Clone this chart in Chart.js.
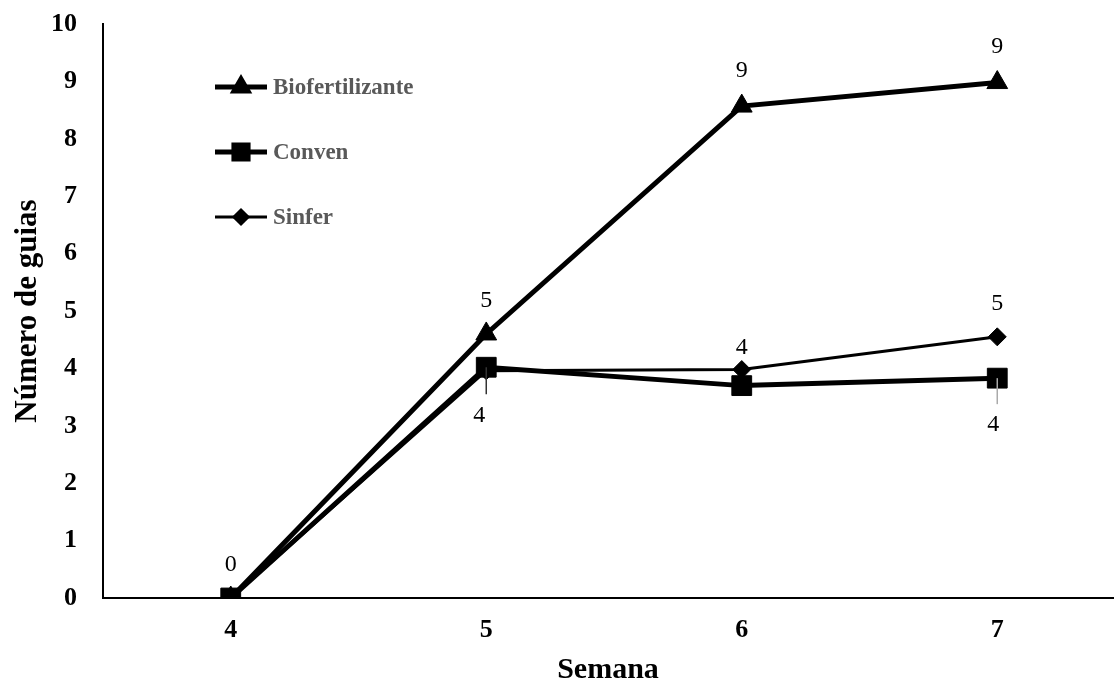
<!DOCTYPE html>
<html>
<head>
<meta charset="utf-8">
<script src="https://cdn.jsdelivr.net/npm/chart.js@4.4.0/dist/chart.umd.min.js"></script>
<style>
  html, body { margin: 0; padding: 0; background: #fff; }
</style>
</head>
<body>
<canvas id="guiasChart" width="1115" height="685"></canvas>
<script>
// weeks on the x axis
const semanas = [4, 5, 6, 7];
const yTicks = [0, 1, 2, 3, 4, 5, 6, 7, 8, 9, 10];

// number of guides per treatment
const biofertilizante = [0, 4.6, 8.57, 8.98];
const conven = [0, 4.02, 3.7, 3.83];
const sinfer = [0, 3.96, 3.98, 4.55];

// which points carry a value label, and where it sits
const labelSetup = [
  { idx: [0, 1, 2, 3], dx: [0, 0, 0, 0], dy: [-33, -33, -35, -36] },
  { idx: [1, 3], dx: [-7, -4], dy: [48, 47], leader: ['#333', '#aaa'] },
  { idx: [2, 3], dx: [0, 0], dy: [-22, -33] }
];

const toPoints = (arr) => arr.map((v, i) => ({ x: semanas[i], y: v }));

const serif = '"Liberation Serif", "Times New Roman", serif';

// value labels drawn next to the points
const valueLabels = {
  id: 'valueLabels',
  afterDatasetsDraw(chart) {
    const ctx = chart.ctx;
    ctx.save();
    ctx.font = '24px ' + serif;
    ctx.fillStyle = '#000';
    ctx.textAlign = 'center';
    ctx.textBaseline = 'middle';
    chart.data.datasets.forEach((ds, d) => {
      const meta = chart.getDatasetMeta(d);
      const cfg = labelSetup[d];
      cfg.idx.forEach((i, k) => {
        const pt = meta.data[i];
        const x = pt.x + cfg.dx[k];
        const y = pt.y + cfg.dy[k];
        if (cfg.leader) {
          ctx.strokeStyle = cfg.leader[k];
          ctx.lineWidth = 1.5;
          ctx.beginPath();
          ctx.moveTo(pt.x, pt.y);
          ctx.lineTo(pt.x, y - 21);
          ctx.stroke();
        }
        ctx.fillText(String(Math.round(ds.data[i].y)), x, y);
      });
    });
    ctx.restore();
  }
};

// legend drawn inside the plot area
const insideLegend = {
  id: 'insideLegend',
  afterDraw(chart) {
    const ctx = chart.ctx;
    const x0 = 215, x1 = 267, rowY = [87, 152, 217];
    const markR = [8, 10, 7];
    ctx.save();
    chart.data.datasets.forEach((ds, d) => {
      const y = rowY[d];
      ctx.strokeStyle = ds.borderColor;
      ctx.lineWidth = d === 2 ? 3 : 5;
      ctx.beginPath();
      ctx.moveTo(x0, y);
      ctx.lineTo(x1, y);
      ctx.stroke();
      ctx.fillStyle = '#000';
      ctx.strokeStyle = '#000';
      Chart.helpers.drawPoint(ctx, {
        pointStyle: ds.pointStyle, radius: markR[d], rotation: 0, borderWidth: 1
      }, (x0 + x1) / 2, y);
      ctx.fillStyle = '#595959';
      ctx.font = 'bold 23px ' + serif;
      ctx.textAlign = 'left';
      ctx.textBaseline = 'middle';
      ctx.fillText(ds.label, x1 + 6, y + 1);
    });
    ctx.restore();
  }
};

const ctx = document.getElementById('guiasChart').getContext('2d');

const myChart = new Chart(ctx, {
  type: 'line',
  data: {
    datasets: [
      {
        label: 'Biofertilizante',
        data: toPoints(biofertilizante),
        borderColor: '#000',
        backgroundColor: '#000',
        borderWidth: 5,
        pointStyle: 'triangle',
        pointRadius: 12,
        pointBorderWidth: 1,
        order: 2
      },
      {
        label: 'Conven',
        data: toPoints(conven),
        borderColor: '#000',
        backgroundColor: '#000',
        borderWidth: 5,
        pointStyle: 'rect',
        pointRadius: 14,
        pointBorderWidth: 1,
        order: 1
      },
      {
        label: 'Sinfer',
        data: toPoints(sinfer),
        borderColor: '#000',
        backgroundColor: '#000',
        borderWidth: 3,
        pointStyle: 'rectRot',
        pointRadius: 9,
        pointBorderWidth: 1,
        order: 0
      }
    ]
  },
  options: {
    responsive: false,
    animation: false,
    layout: { autoPadding: false, padding: { left: 12, top: 24, right: 2, bottom: 0 } },
    plugins: {
      legend: { display: false },
      tooltip: { enabled: false }
    },
    scales: {
      x: {
        type: 'linear',
        min: 3.5,
        max: 7.453,
        grid: { display: false },
        border: { display: true, color: '#000', width: 2 },
        ticks: {
          color: '#000',
          padding: 9,
          font: { family: serif, size: 26, weight: 'bold' }
        },
        afterBuildTicks(scale) {
          scale.ticks = semanas.map(v => ({ value: v }));
        },
        afterFit(scale) {
          scale.height = 87;
          scale.paddingLeft = 0;
          scale.paddingRight = 0;
        },
        title: {
          display: true,
          text: 'Semana',
          color: '#000',
          padding: 0,
          font: { family: serif, size: 30, weight: 'bold', lineHeight: 1 }
        }
      },
      y: {
        min: 0,
        max: 10,
        grid: { display: false },
        border: { display: true, color: '#000', width: 2 },
        ticks: {
          color: '#000',
          padding: 18,
          font: { family: serif, size: 26, weight: 'bold' }
        },
        afterBuildTicks(scale) {
          scale.ticks = yTicks.map(v => ({ value: v }));
        },
        afterFit(scale) {
          scale.width = 91;
          scale.paddingTop = 0;
          scale.paddingBottom = 0;
        },
        title: {
          display: true,
          text: 'Número de guias',
          color: '#000',
          padding: 0,
          font: { family: serif, size: 31, weight: 'bold', lineHeight: 1 }
        }
      }
    }
  },
  plugins: [valueLabels, insideLegend]
});
</script>
</body>
</html>
